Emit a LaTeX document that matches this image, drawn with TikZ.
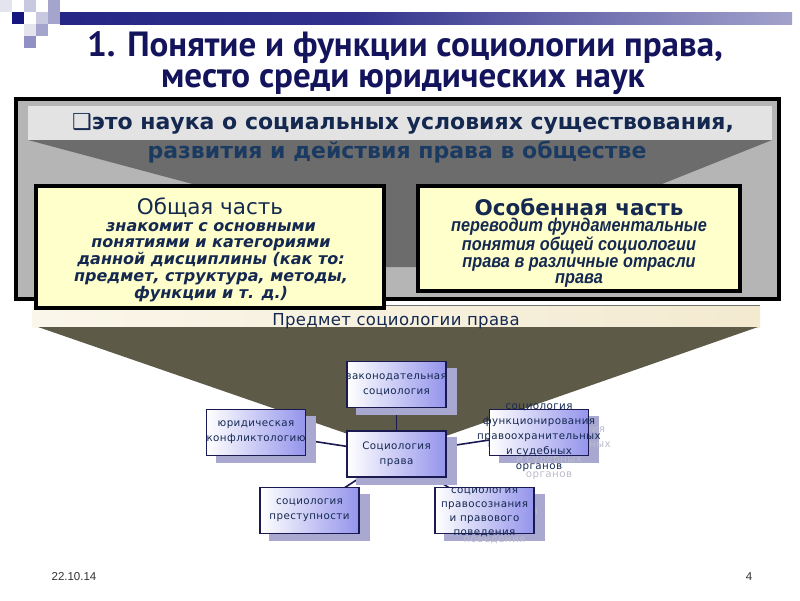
\documentclass[tikz,border=0pt]{standalone}
\usepackage{fontspec}
\setmainfont{DejaVu Sans}
\newfontfamily\titlefont{PT Sans}
\newfontfamily\narrowfont{Liberation Sans}[FakeStretch=0.88]
\newfontfamily\footfont{Liberation Sans}
\newfontfamily\nodefont{DejaVu Sans}[LetterSpace=4]
\newfontfamily\bandfont{DejaVu Sans}[LetterSpace=2]
\usetikzlibrary{shadings}
\definecolor{navy}{HTML}{14145C}
\definecolor{barnavy}{HTML}{16167E}
\definecolor{txtnavy}{HTML}{142850}
\definecolor{txtblue}{HTML}{1B3A62}
\definecolor{framegray}{HTML}{B5B5B5}
\definecolor{bannergray}{HTML}{E3E3E3}
\definecolor{trapgray}{HTML}{6C6C6C}
\definecolor{paleyellow}{HTML}{FFFFCC}
\definecolor{olive}{HTML}{5E5A48}
\definecolor{bandA}{HTML}{FAF6EA}
\definecolor{bandB}{HTML}{F3EAD0}
\definecolor{nodeblue}{HTML}{9494EC}
\definecolor{nodeline}{HTML}{1A1A50}
\definecolor{shadowcol}{HTML}{A8A8D0}
\definecolor{ghostcol}{HTML}{BCBCCC}
\definecolor{sqA}{HTML}{E4E4EE}
\definecolor{sqB}{HTML}{C8C8E0}
\definecolor{sqC}{HTML}{A4A4CC}
\definecolor{sqD}{HTML}{9090C4}
\pgfdeclarehorizontalshading{barshade}{100bp}{color(0bp)=(barnavy); color(45bp)=(barnavy!88!white); color(78bp)=(barnavy!35!white); color(100bp)=(white)}
\pgfdeclarelayer{back}
\pgfdeclarelayer{lines}
\pgfdeclarelayer{shad}
\pgfsetlayers{back,lines,shad,main}
\tikzset{
  titletext/.style={text=navy, font=\titlefont\bfseries\fontsize{35}{38}\selectfont, inner sep=0, anchor=base},
  ybox/.style={draw=black, line width=3.5pt, fill=paleyellow, inner sep=0},
  ytext/.style={align=center, text=txtnavy, inner sep=0},
  nbox/.style={draw=nodeline, line width=1.1pt, minimum width=99pt, minimum height=46pt, inner sep=0,
     left color=white, right color=nodeblue},
  ntext/.style={align=center, text=txtnavy, inner sep=0, font=\nodefont\fontsize{10.3}{15}\selectfont},
  ghost/.style={align=center, text=ghostcol, inner sep=0, font=\nodefont\fontsize{10.3}{15}\selectfont},
  conn/.style={draw=nodeline, line width=1.6pt},
  foot/.style={font=\footfont\fontsize{11.5}{14}\selectfont, text=black!80, inner sep=0}
}
\begin{document}
\begin{tikzpicture}[x=1pt,y=-1pt]
\useasboundingbox (0,0) rectangle (800,600);
% background layer
\begin{pgfonlayer}{back}
\fill[white] (0,0) rectangle (800,600);
\draw[line width=4.5pt, fill=framegray] (16,99) rectangle (779,299);
\fill[bannergray] (28,106) rectangle (772,140);
\fill[trapgray] (28,140) -- (772,140) -- (657,186) -- (420,267) -- (380,267) -- (200,186) -- cycle;
\shade[left color=bandA, right color=bandB] (32,306) rectangle (760,327);
\draw[black!55, line width=0.8pt] (386,305.5) -- (760,305.5);
\fill[olive] (38,327) -- (758,327) -- (400,452) -- cycle;
\end{pgfonlayer}
% top-left decoration
\fill[sqA] (0,0) rectangle (12,12);
\fill[sqB] (24,0) rectangle (36,12);
\fill[sqC] (48,0) rectangle (60,12);
\fill[barnavy] (12,12) rectangle (24,24);
\fill[sqB] (36,12) rectangle (48,24);
\fill[sqC] (48,12) rectangle (60,24);
\fill[sqA] (24,24) rectangle (36,36);
\fill[sqC] (36,24) rectangle (48,36);
\fill[sqD] (24,36) rectangle (36,48);
\shade[shading=barshade] (60,12) rectangle (792,24);
% title
\node[titletext] (t1) at (405,56) {1. Понятие и функции социологии права,};
\node[titletext] (t2) at (403,87) {место среди юридических наук};
% banner texts
\node[text=txtnavy, font=\bfseries\fontsize{22}{24}\selectfont, inner sep=0] (b1) at (403,124) {{\mdseries ❑}это наука о социальных условиях существования,};
\node[text=txtblue, font=\bfseries\fontsize{22}{24}\selectfont, inner sep=0] (b2) at (397,152) {развития и действия права в обществе};
% yellow boxes
\node[ybox, minimum width=348pt, minimum height=122pt] (gen) at (210,247) {};
\node[ytext, font=\fontsize{21.5}{24}\selectfont] (genH) at (210,208) {Общая часть};
\node[ytext, font=\bfseries\itshape\fontsize{16}{16.8}\selectfont] (genB) at (211,262)
  {знакомит с основными\\понятиями и категориями\\данной дисциплины (как то:\\предмет, структура, методы,\\функции и т. д.)};
\node[ybox, minimum width=322pt, minimum height=105pt] (spec) at (579,238.5) {};
\node[ytext, font=\bfseries\fontsize{21.5}{24}\selectfont] (specH) at (579,207) {Особенная часть};
\node[ytext, font=\narrowfont\bfseries\itshape\fontsize{18.5}{16.8}\selectfont] (specB) at (579,253)
  {переводит фундаментальные\\понятия общей социологии\\права в различные отрасли\\права};
% band text
\node[text=txtnavy, font=\bandfont\fontsize{16.5}{18}\selectfont, inner sep=0] (band) at (396,321) {Предмет социологии права};
% diagram nodes
\node[nbox] (zak) at (396.5,384.5) {};
\node[nbox] (yur) at (256,432.5) {};
\node[nbox] (soc) at (396.5,454) {};
\node[nbox] (func) at (539,432.5) {};
\node[nbox] (prest) at (309.5,510.5) {};
\node[nbox] (pravo) at (484.5,510.5) {};
\node[ntext] (zakT) at (zak.center) {законодательная\\социология};
\node[ntext] (yurT) at (yur.center) {юридическая\\конфликтологию};
\node[ntext] (socT) at (soc.center) {Социология\\права};
\node[ntext] (funcT) at ([shift={(0,5)}]func.center) {социология\\функционирования\\правоохранительных\\и судебных\\органов};
\node[ntext] (prestT) at (prest.center) {социология\\преступности};
\node[ntext, font=\nodefont\fontsize{10.3}{14.2}\selectfont] (pravoT) at ([shift={(0,2)}]pravo.center) {социология\\правосознания\\и правового\\поведения};
% shadows
\begin{pgfonlayer}{shad}
\foreach \n in {zak,yur,soc,func,prest,pravo}{
  \fill[shadowcol] ([shift={(10,7)}]\n.south west) rectangle ([shift={(10,7)}]\n.north east);
}
\node[ghost] (funcG) at ([shift={(10,13)}]func.center) {социология\\функционирования\\правоохранительных\\и судебных\\органов};
\node[ghost, font=\nodefont\fontsize{10.3}{14.2}\selectfont] (pravoG) at ([shift={(10,9)}]pravo.center) {социология\\правосознания\\и правового\\поведения};
\end{pgfonlayer}
% connectors
\begin{pgfonlayer}{lines}
\draw[conn] (soc.center) -- (zak.center);
\draw[conn] (soc.center) -- (yur.center);
\draw[conn] (soc.center) -- (func.center);
\draw[conn] (soc.center) -- (prest.center);
\draw[conn] (soc.center) -- (pravo.center);
\end{pgfonlayer}
% footer
\node[foot] (date) at (74,577) {22.10.14};
\node[foot] (page) at (749,577) {4};
\end{tikzpicture}
\end{document}
